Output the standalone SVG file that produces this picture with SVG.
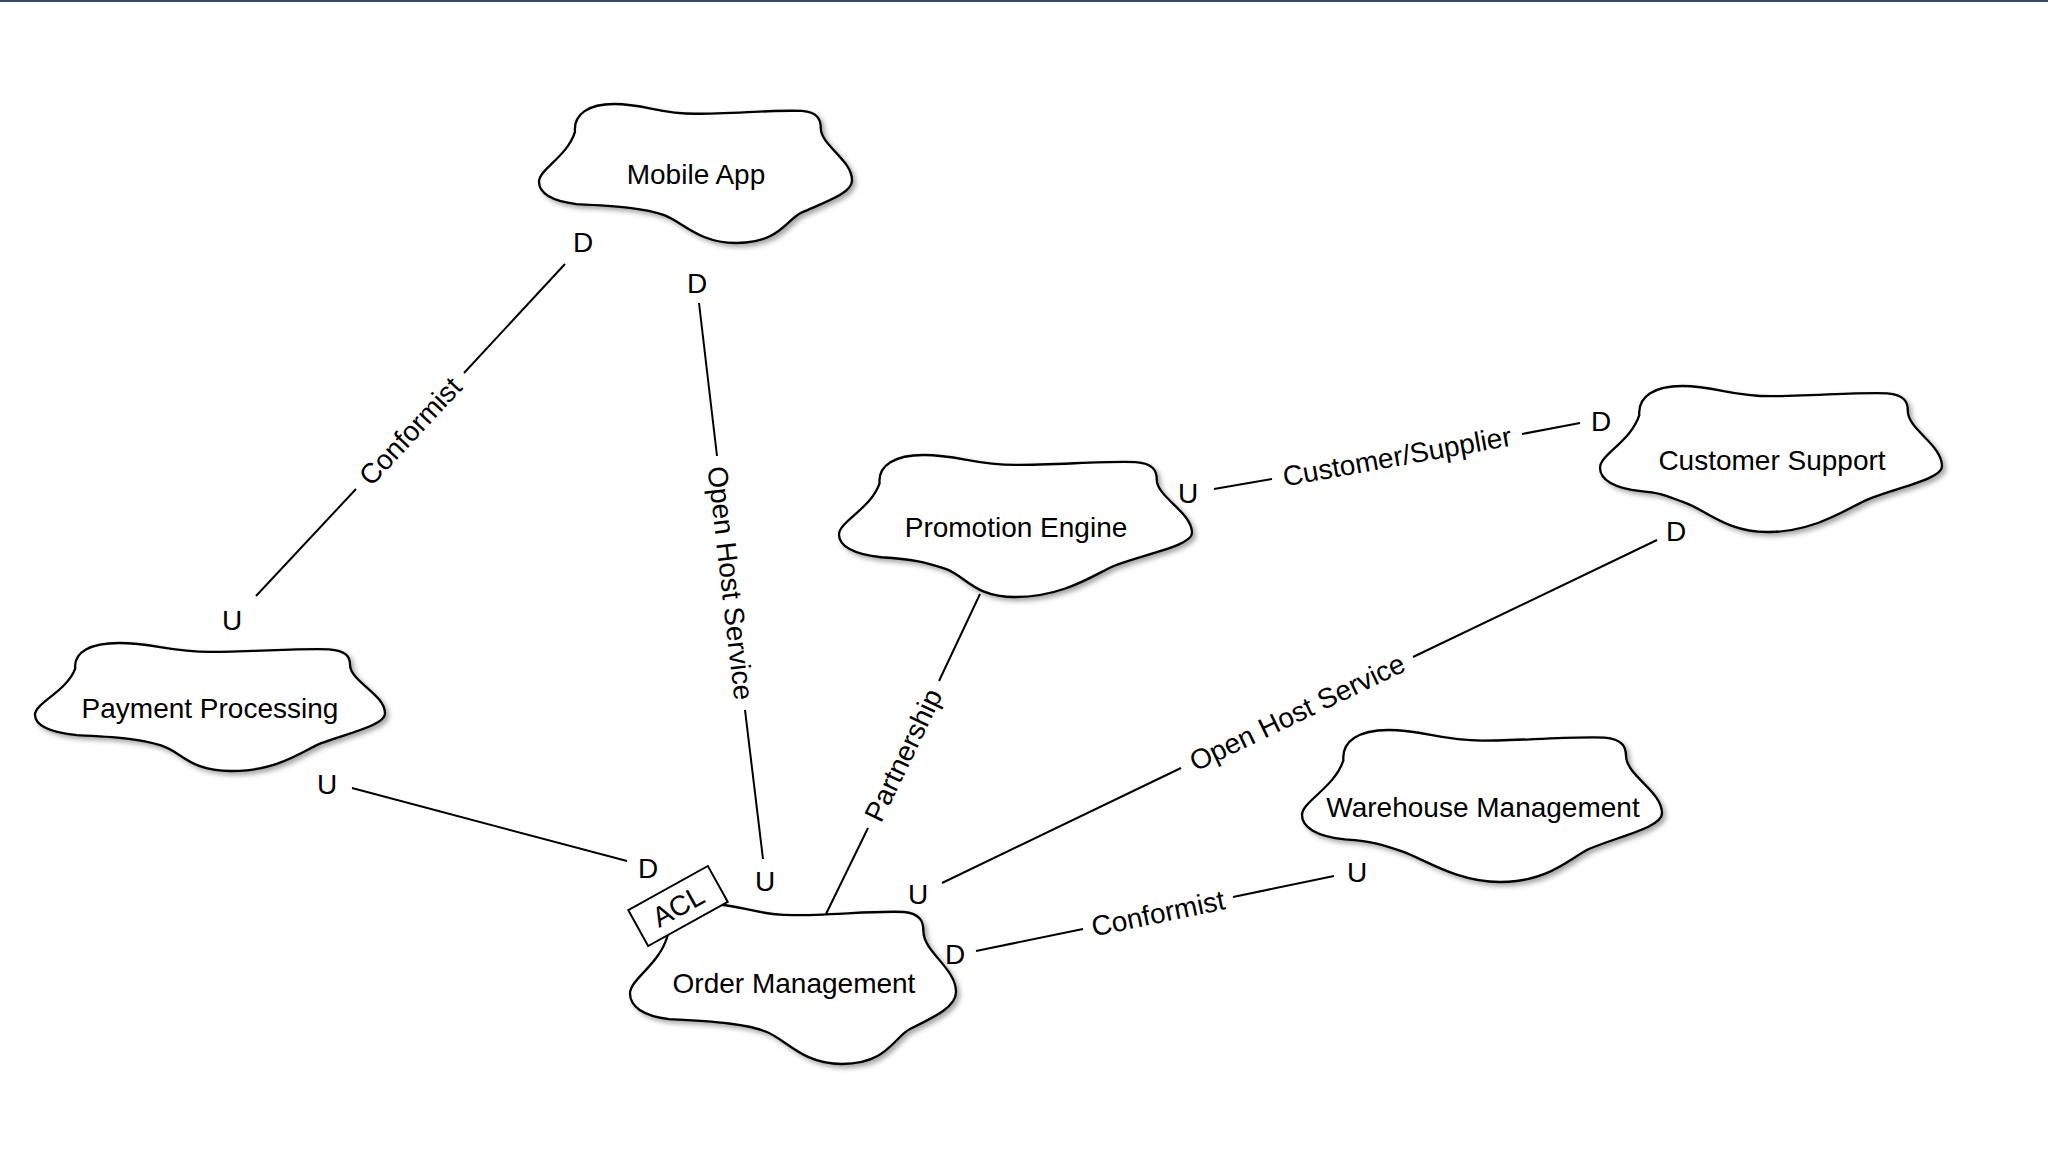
<svg xmlns="http://www.w3.org/2000/svg" width="2048" height="1152" viewBox="0 0 2048 1152">
<style>
.cloud{fill:#fff;stroke:#000;stroke-width:2.3;stroke-linejoin:round}
.lbl{font-family:"Liberation Sans",Arial,Helvetica,sans-serif;font-size:28px;fill:#000;text-anchor:middle}
.ln{stroke:#000;stroke-width:2;fill:none}
.acl{fill:#fff;stroke:#000;stroke-width:2}
</style>
<defs>
<filter id="sh" x="-10%" y="-10%" width="125%" height="130%">
<feDropShadow dx="3" dy="3" stdDeviation="2.5" flood-color="#000" flood-opacity="0.35"/>
</filter>
</defs>
<rect x="0" y="0" width="2048" height="1152" fill="#fff"/>
<rect x="0" y="0" width="2048" height="2" fill="#39465f"/>

<g id="connectors">
<!-- Mobile App - Payment Processing : Conformist -->
<line class="ln" x1="565" y1="264" x2="464" y2="373"/>
<line class="ln" x1="356" y1="489" x2="256" y2="596"/>
<text class="lbl" transform="translate(410,431) rotate(-47.06)" y="10">Conformist</text>
<text class="lbl" x="583" y="252">D</text>
<text class="lbl" x="232" y="630">U</text>
<!-- Mobile App - Order Management : Open Host Service -->
<line class="ln" x1="699" y1="303" x2="717" y2="456"/>
<line class="ln" x1="745" y1="710" x2="763" y2="859"/>
<text class="lbl" transform="translate(731,583) rotate(83.43)" y="10">Open Host Service</text>
<text class="lbl" x="697" y="293">D</text>
<text class="lbl" x="765" y="891">U</text>
<!-- Promotion Engine - Order Management : Partnership -->
<line class="ln" x1="980" y1="594" x2="939" y2="681"/>
<line class="ln" x1="868" y1="828" x2="826" y2="914"/>
<text class="lbl" transform="translate(903,755) rotate(-64.3)" y="10">Partnership</text>
<!-- Payment Processing - Order Management -->
<line class="ln" x1="352" y1="788" x2="627" y2="861"/>
<text class="lbl" x="327" y="794">U</text>
<text class="lbl" x="648" y="878">D</text>
<!-- Promotion Engine - Customer Support : Customer/Supplier -->
<line class="ln" x1="1214" y1="489" x2="1272" y2="479"/>
<line class="ln" x1="1522" y1="434" x2="1580" y2="423"/>
<text class="lbl" transform="translate(1397,456) rotate(-10.22)" y="10">Customer/Supplier</text>
<text class="lbl" x="1188" y="503">U</text>
<text class="lbl" x="1601" y="431">D</text>
<!-- Customer Support - Order Management : Open Host Service -->
<line class="ln" x1="942" y1="883" x2="1181" y2="768"/>
<line class="ln" x1="1413" y1="657" x2="1657" y2="540"/>
<text class="lbl" transform="translate(1297,712) rotate(-25.63)" y="10">Open Host Service</text>
<text class="lbl" x="918" y="904">U</text>
<text class="lbl" x="1676" y="541">D</text>
<!-- Order Management - Warehouse Management : Conformist -->
<line class="ln" x1="976" y1="951" x2="1083" y2="929"/>
<line class="ln" x1="1233" y1="897" x2="1334" y2="876"/>
<text class="lbl" transform="translate(1158,913) rotate(-11.73)" y="10">Conformist</text>
<text class="lbl" x="955" y="964">D</text>
<text class="lbl" x="1357" y="882">U</text>
</g>

<g id="mobile-app">
<g filter="url(#sh)"><path class="cloud" vector-effect="non-scaling-stroke" transform="translate(539,104) scale(3.13,1.39)" d="M 11.5,20 C 11,7 16,0 24,0 C 34,0 38,7 50,7 C 62,7 76,4 84,5 C 89,6 90,11 90,17 C 90,30 100,40 100,55 C 100,64 92,70 84,78 C 79,83 77,100 63,100 C 51,100 46,85 40,80 C 34,75 26,73.5 12,72 C 4,70 0,64 0,56 C 0,47 9,38 11.5,20 Z"/></g>
<text class="lbl" x="696" y="184">Mobile App</text>
</g>

<g id="payment-processing">
<g filter="url(#sh)"><path class="cloud" vector-effect="non-scaling-stroke" transform="translate(35,643) scale(3.5,1.28)" d="M 11.5,20 C 11,7 16,0 24,0 C 34,0 38,7 50,7 C 62,7 76,4 84,5 C 89,6 90,11 90,17 C 90,30 100,40 100,55 C 100,64 90,70 82,78 C 77,83 70,100 56,100 C 44,100 42,85 36,80 C 30,75 24,73.5 12,72 C 4,70 0,64 0,56 C 0,47 9,38 11.5,20 Z"/></g>
<text class="lbl" x="210" y="718">Payment Processing</text>
</g>

<g id="promotion-engine">
<g filter="url(#sh)"><path class="cloud" vector-effect="non-scaling-stroke" transform="translate(839,455) scale(3.53,1.42)" d="M 11.5,20 C 11,7 16,0 24,0 C 34,0 38,7 50,7 C 62,7 76,4 84,5 C 89,6 90,11 90,17 C 90,30 100,40 100,55 C 100,64 86,70 78,78 C 73,83 64,100 50,100 C 38,100 36,85 30,80 C 24,75 21,73.5 12,72 C 4,70 0,64 0,56 C 0,47 9,38 11.5,20 Z"/></g>
<text class="lbl" x="1016" y="537">Promotion Engine</text>
</g>

<g id="customer-support">
<g filter="url(#sh)"><path class="cloud" vector-effect="non-scaling-stroke" transform="translate(1600,386) scale(3.42,1.46)" d="M 11.5,20 C 11,7 16,0 24,0 C 34,0 38,7 50,7 C 62,7 76,4 84,5 C 89,6 90,11 90,17 C 90,30 100,40 100,55 C 100,64 86,70 78,78 C 73,83 63,100 49,100 C 37,100 31,85 25,80 C 19,75 18.5,73.5 12,72 C 4,70 0,64 0,56 C 0,47 9,38 11.5,20 Z"/></g>
<text class="lbl" x="1772" y="470">Customer Support</text>
</g>

<g id="warehouse-management">
<g filter="url(#sh)"><path class="cloud" vector-effect="non-scaling-stroke" transform="translate(1302,730) scale(3.6,1.52)" d="M 11.5,20 C 11,7 16,0 24,0 C 34,0 38,7 50,7 C 62,7 76,4 84,5 C 89,6 90,11 90,17 C 90,30 100,40 100,55 C 100,64 88,70 80,78 C 75,83 69,100 55,100 C 43,100 34,85 28,80 C 22,75 20,73.5 12,72 C 4,70 0,64 0,56 C 0,47 9,38 11.5,20 Z"/></g>
<text class="lbl" x="1483" y="817">Warehouse Management</text>
</g>

<g id="order-management">
<g filter="url(#sh)"><path class="cloud" vector-effect="non-scaling-stroke" transform="translate(630,904) scale(3.26,1.6)" d="M 11.5,20 C 11,7 16,0 24,0 C 34,0 38,7 50,7 C 62,7 76,4 84,5 C 89,6 90,11 90,17 C 90,30 100,40 100,55 C 100,64 94,70 86,78 C 81,83 79,100 65,100 C 53,100 48,85 42,80 C 36,75 27,73.5 12,72 C 4,70 0,64 0,56 C 0,47 9,38 11.5,20 Z"/></g>
<text class="lbl" x="794" y="993">Order Management</text>
<g id="acl" transform="translate(678,906) rotate(-29)">
<rect class="acl" x="-45.5" y="-20.5" width="91" height="41"/>
<text class="lbl" x="0" y="10">ACL</text>
</g>
</g>
</svg>
